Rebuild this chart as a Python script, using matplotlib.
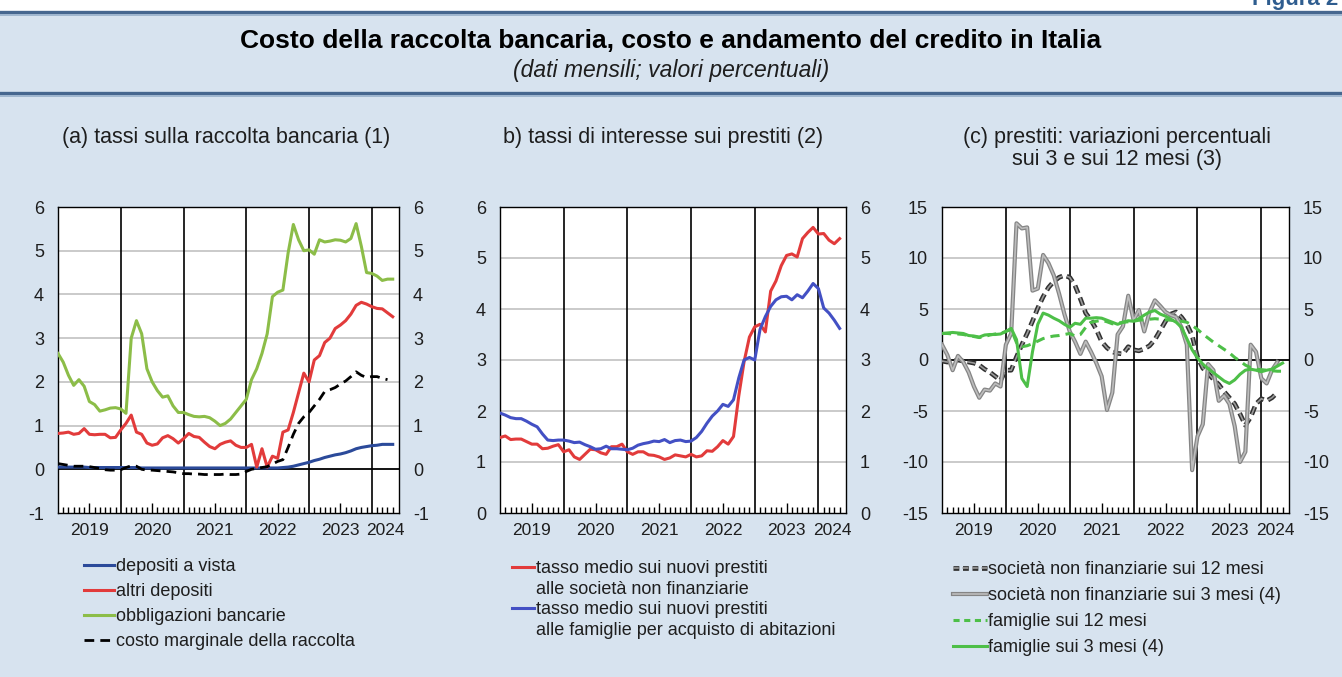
import numpy as np
import matplotlib
matplotlib.use("Agg")
import matplotlib.pyplot as plt
import matplotlib.patheffects as pe
from matplotlib.lines import Line2D
from matplotlib.patches import Rectangle

plt.rcParams['font.family'] = ['Liberation Sans', 'DejaVu Sans']
plt.rcParams['axes.unicode_minus'] = False

# -------- data: monthly, Jan 2019 - May 2024 --------
months = np.arange(65)
year_labels = ["2019", "2020", "2021", "2022", "2023", "2024"]

# (a) tassi sulla raccolta bancaria
depositi_vista = [0.05, 0.05, 0.05, 0.05, 0.05, 0.05, 0.04, 0.04, 0.04, 0.04,
                  0.04, 0.04, 0.04, 0.04, 0.04, 0.04, 0.03, 0.03, 0.03, 0.03,
                  0.03, 0.03, 0.03, 0.03, 0.03, 0.03, 0.03, 0.03, 0.03, 0.03,
                  0.03, 0.03, 0.03, 0.03, 0.03, 0.03, 0.03, 0.03, 0.03, 0.03,
                  0.03, 0.03, 0.03, 0.04, 0.05, 0.07, 0.10, 0.13, 0.16, 0.20,
                  0.23, 0.27, 0.30, 0.33, 0.35, 0.38, 0.42, 0.47, 0.50, 0.52,
                  0.54, 0.55, 0.57, 0.57, 0.57]
altri_depositi = [0.82, 0.83, 0.85, 0.80, 0.82, 0.93, 0.80, 0.79, 0.80, 0.80,
                  0.72, 0.73, 0.90, 1.05, 1.24, 0.85, 0.80, 0.60, 0.55, 0.58,
                  0.72, 0.77, 0.70, 0.60, 0.70, 0.82, 0.75, 0.73, 0.62, 0.52,
                  0.47, 0.57, 0.62, 0.65, 0.55, 0.50, 0.50, 0.57, 0.05, 0.47,
                  0.05, 0.30, 0.25, 0.85, 0.90, 1.30, 1.75, 2.20, 2.00, 2.50,
                  2.60, 2.90, 3.00, 3.22, 3.30, 3.40, 3.55, 3.75, 3.82, 3.78,
                  3.72, 3.68, 3.67, 3.58, 3.49]
obbligazioni = [2.65, 2.45, 2.15, 1.92, 2.05, 1.90, 1.55, 1.48, 1.33, 1.36,
                1.40, 1.41, 1.38, 1.28, 3.00, 3.40, 3.10, 2.30, 2.00, 1.80,
                1.65, 1.68, 1.45, 1.30, 1.30, 1.25, 1.21, 1.20, 1.21, 1.18,
                1.10, 1.00, 1.05, 1.15, 1.30, 1.45, 1.60, 2.05, 2.30, 2.65,
                3.10, 3.95, 4.05, 4.10, 4.95, 5.60, 5.25, 5.00, 5.02, 4.92,
                5.25, 5.20, 5.22, 5.25, 5.24, 5.20, 5.28, 5.62, 5.10, 4.50,
                4.48, 4.42, 4.32, 4.35, 4.35]
costo_marginale = [0.13, 0.11, 0.09, 0.07, 0.07, 0.07, 0.06, 0.04, 0.02, -0.01,
                   -0.02, -0.02, -0.01, 0.04, 0.08, 0.07, 0.00, -0.02, -0.02, -0.03,
                   -0.04, -0.05, -0.06, -0.08, -0.10, -0.10, -0.11, -0.11, -0.12, -0.12,
                   -0.12, -0.12, -0.11, -0.12, -0.12, -0.11, -0.05, 0.00, 0.02, 0.04,
                   0.06, 0.12, 0.18, 0.22, 0.50, 0.80, 1.05, 1.20, 1.30, 1.45,
                   1.60, 1.78, 1.82, 1.87, 1.95, 2.02, 2.12, 2.23, 2.15, 2.10,
                   2.12, 2.12, 2.08, 2.05, np.nan]

# (b) tassi di interesse sui prestiti
prestiti_imprese = [1.48, 1.51, 1.44, 1.45, 1.45, 1.40, 1.35, 1.35, 1.26, 1.27,
                    1.31, 1.34, 1.20, 1.24, 1.10, 1.05, 1.15, 1.25, 1.24, 1.18,
                    1.15, 1.30, 1.30, 1.35, 1.20, 1.15, 1.20, 1.20, 1.14, 1.13,
                    1.10, 1.05, 1.08, 1.14, 1.12, 1.10, 1.15, 1.10, 1.12, 1.22,
                    1.21, 1.30, 1.42, 1.35, 1.50, 2.30, 2.97, 3.45, 3.65, 3.70,
                    3.55, 4.35, 4.55, 4.85, 5.05, 5.08, 5.02, 5.38, 5.50, 5.60,
                    5.47, 5.48, 5.35, 5.28, 5.38]
prestiti_famiglie = [1.96, 1.92, 1.87, 1.85, 1.85, 1.80, 1.74, 1.69, 1.55, 1.43,
                     1.42, 1.43, 1.43, 1.41, 1.38, 1.39, 1.34, 1.30, 1.25, 1.26,
                     1.31, 1.26, 1.26, 1.25, 1.24, 1.27, 1.33, 1.36, 1.38, 1.41,
                     1.40, 1.44, 1.38, 1.42, 1.43, 1.40, 1.41, 1.48, 1.60, 1.76,
                     1.90, 2.00, 2.13, 2.09, 2.22, 2.65, 3.00, 3.05, 3.00, 3.60,
                     3.85, 4.05, 4.18, 4.24, 4.25, 4.18, 4.28, 4.22, 4.35, 4.50,
                     4.40, 4.02, 3.92, 3.78, 3.62]

# (c) prestiti: variazioni percentuali
imprese_12m = [-0.1, -0.2, -0.1, 0.0, -0.1, -0.2, -0.3, -0.5, -0.9, -1.2,
               -1.6, -2.0, -1.0, -1.0, 0.3, 1.5, 2.6, 3.8, 5.1, 6.2,
               7.1, 7.7, 8.1, 8.3, 8.1, 7.3, 6.0, 4.6, 3.9, 3.0,
               1.8, 1.2, 0.8, 0.65, 0.6, 1.3, 1.0, 0.9, 1.1, 1.4,
               2.0, 2.9, 3.8, 4.5, 4.7, 4.2, 3.5, 2.4, 0.3, -0.8,
               -1.3, -1.9, -2.4, -3.1, -3.7, -4.3, -5.3, -6.4, -5.6, -4.3,
               -3.8, -4.0, -3.7, -3.2, np.nan]
imprese_3m = [1.5, 0.5, -1.0, 0.4, -0.2, -1.2, -2.6, -3.7, -2.9, -3.0,
              -2.3, -2.6, 1.5, 2.6, 13.4, 12.9, 13.0, 6.8, 7.0, 10.3,
              9.5, 8.3, 6.5, 4.5, 2.8, 1.8, 0.6, 1.8, 0.8, -0.3,
              -1.6, -4.9, -3.2, 2.5, 3.3, 6.3, 3.9, 4.9, 2.8, 4.7,
              5.85, 5.3, 4.7, 4.4, 4.2, 3.2, 1.5, -10.8, -7.5, -6.3,
              -0.4, -1.0, -4.0, -3.5, -4.3, -6.5, -10.0, -9.0, 1.5, 0.8,
              -1.8, -2.3, -1.0, -0.2, np.nan]
famiglie_12m = [2.60, 2.60, 2.55, 2.55, 2.50, 2.40, 2.30, 2.20, 2.30, 2.45,
                2.55, 2.60, 2.80, 3.00, 1.70, 1.30, 1.40, 1.60, 1.85, 2.10,
                2.25, 2.35, 2.40, 2.50, 2.60, 2.35, 2.50, 3.20, 3.70, 3.80,
                3.90, 3.75, 3.55, 3.60, 3.70, 3.75, 3.80, 3.90, 3.95, 4.00,
                4.05, 4.00, 3.95, 3.90, 3.85, 3.80, 3.70, 3.40, 3.00, 2.55,
                2.15, 1.75, 1.40, 1.05, 0.70, 0.25, -0.10, -0.50, -0.75, -0.90,
                -0.95, -1.00, -1.05, -1.10, -1.10]
famiglie_3m = [2.60, 2.65, 2.70, 2.65, 2.60, 2.40, 2.35, 2.25, 2.45, 2.50,
               2.50, 2.55, 2.80, 3.10, 2.00, -1.80, -2.60, 0.80, 3.50, 4.60,
               4.40, 4.10, 3.85, 3.50, 3.20, 3.60, 3.50, 4.10, 4.10, 4.15,
               4.10, 3.90, 3.70, 3.50, 3.70, 3.85, 3.80, 4.05, 4.40, 4.70,
               4.85, 4.50, 4.30, 4.00, 3.70, 3.20, 2.10, 1.00, 0.20, -0.40,
               -0.85, -1.25, -1.65, -2.05, -2.30, -1.95, -1.40, -1.00, -0.90, -1.00,
               -1.15, -1.00, -0.90, -0.60, -0.30]

# -------- layout helpers --------
W, H = 1342, 677
BG = "#d7e3ef"
TXT = "#1e1e1e"
XMAX = 65.2
LEG_FS = 13


def fx(px):
    return px / W


def fy(py):
    return 1 - py / H


def style_axis(ax, ymin, ymax, step, zero_line):
    ax.set_xlim(0, XMAX)
    ax.set_ylim(ymin, ymax)
    yt = np.arange(ymin, ymax + step / 2, step)
    ax.set_yticks(yt)
    ax.set_yticklabels([str(int(v)) for v in yt])
    for v in yt[1:-1]:
        if zero_line and v == 0:
            ax.axhline(0, color="black", lw=1.3, zorder=2)
        else:
            ax.axhline(v, color="#c6c6c6", lw=1.3, zorder=1)
    for v in [12, 24, 36, 48, 60]:
        ax.axvline(v, color="black", lw=1.2, zorder=2)
    ax.tick_params(axis="y", length=0, pad=10, labelsize=13, labelcolor=TXT,
                   left=False, right=False, labelleft=True, labelright=True)
    # year labels centred on each year, 2024 on its visible part
    pos = [6, 18, 30, 42, 54, (60 + XMAX) / 2]
    ax.set_xticks(pos)
    ax.set_xticklabels(year_labels)
    ax.set_xticks([m for m in range(1, 65) if m % 6 != 0], minor=True)
    ax.tick_params(axis="x", which="major", direction="in", length=7, width=1,
                   pad=7, labelsize=12.5, labelcolor=TXT)
    ax.tick_params(axis="x", which="minor", direction="in", length=4, width=1)
    ax.xaxis.get_major_ticks()[-1].tick1line.set_visible(False)
    for s in ax.spines.values():
        s.set_color("black")
        s.set_linewidth(1.0)


fig = plt.figure(figsize=(W / 100, H / 100), dpi=100)
fig.patch.set_facecolor(BG)

# header band
fig.add_artist(Rectangle((0, fy(12)), 1, 12 / H, transform=fig.transFigure,
                         facecolor="white", edgecolor="none"))
for y, c, w in [(12, "#46678f", 2.4), (14.5, "#9fb6cf", 1.4),
                (93, "#46678f", 2.4), (95.5, "#9fb6cf", 1.4)]:
    fig.add_artist(Line2D([0, 1], [fy(y), fy(y)], transform=fig.transFigure,
                          color=c, lw=w))
fig.text(fx(1252), fy(0), "Figura 2", fontsize=16, fontweight="bold",
         color="#2f5d8f", ha="left", va="center")
fig.text(0.5, fy(41), "Costo della raccolta bancaria, costo e andamento del credito in Italia",
         fontsize=19, fontweight="bold", color="black", ha="center", va="center")
fig.text(0.5, fy(71), "(dati mensili; valori percentuali)", fontsize=16.5,
         style="italic", color=TXT, ha="center", va="center")

# -------- panel (a) --------
ax_a = fig.add_axes([fx(58), fy(513), fx(399 - 58), (513 - 207) / H])
style_axis(ax_a, -1, 6, 1, True)
ax_a.plot(months, depositi_vista, color="#2b4a9a", lw=2.2, zorder=4, label="depositi a vista")
ax_a.plot(months, altri_depositi, color="#e23b3b", lw=2.2, zorder=4, label="altri depositi")
ax_a.plot(months, obbligazioni, color="#8cbd48", lw=2.2, zorder=4, label="obbligazioni bancarie")
ax_a.plot(months, costo_marginale, color="black", lw=2.0, dashes=(3.5, 2.2), zorder=5,
          label="costo marginale della raccolta")
fig.text(fx(226), fy(137), "(a) tassi sulla raccolta bancaria (1)", fontsize=15.5,
         color=TXT, ha="center", va="center")
leg_a = ax_a.legend(loc="upper left", bbox_to_anchor=(fx(84), fy(558)),
                    bbox_transform=fig.transFigure, frameon=False, fontsize=LEG_FS,
                    handlelength=1.65, handletextpad=0.15, labelspacing=0.45,
                    borderpad=0, borderaxespad=0)
for t in leg_a.get_texts():
    t.set_color(TXT)

# -------- panel (b) --------
ax_b = fig.add_axes([fx(500), fy(513), fx(846 - 500), (513 - 207) / H])
style_axis(ax_b, 0, 6, 1, False)
ax_b.plot(months, prestiti_imprese, color="#e23b3b", lw=2.2, zorder=4)
ax_b.plot(months, prestiti_famiglie, color="#4350c4", lw=2.2, zorder=4)
fig.text(fx(663), fy(137), "b) tassi di interesse sui prestiti (2)", fontsize=15.5,
         color=TXT, ha="center", va="center")
blank = Line2D([], [], color="none")
hb = [Line2D([], [], color="#e23b3b", lw=2.2), blank,
      Line2D([], [], color="#4350c4", lw=2.2), blank]
lb = ["tasso medio sui nuovi prestiti", "alle società non finanziarie",
      "tasso medio sui nuovi prestiti", "alle famiglie per acquisto di abitazioni"]
leg_b = ax_b.legend(hb, lb, loc="upper left", bbox_to_anchor=(fx(512), fy(560)),
                    bbox_transform=fig.transFigure, frameon=False, fontsize=LEG_FS,
                    handlelength=1.2, handletextpad=0.15, labelspacing=0.2,
                    borderpad=0, borderaxespad=0)
for t in leg_b.get_texts():
    t.set_color(TXT)

# -------- panel (c) --------
ax_c = fig.add_axes([fx(942), fy(513), fx(1289 - 942), (513 - 207) / H])
style_axis(ax_c, -15, 15, 5, True)
gray_fx = [pe.Stroke(linewidth=3.0, foreground="#858585"), pe.Normal()]
dash_fx = [pe.Stroke(linewidth=3.4, foreground="#303030"), pe.Normal()]
ax_c.plot(months, imprese_12m, color="#9a9a9a", lw=1.2, dashes=(5, 2.8),
          path_effects=dash_fx, zorder=4)
ax_c.plot(months, imprese_3m, color="#bdbdbd", lw=1.2, path_effects=gray_fx, zorder=4)
ax_c.plot(months, famiglie_12m, color="#4dbf48", lw=2.2, dashes=(3.0, 2.0), zorder=5)
ax_c.plot(months, famiglie_3m, color="#4dbf48", lw=2.2, zorder=5)
fig.text(fx(1117), fy(137), "(c) prestiti: variazioni percentuali", fontsize=15.5,
         color=TXT, ha="center", va="center")
fig.text(fx(1117), fy(160), "sui 3 e sui 12 mesi (3)", fontsize=15.5,
         color=TXT, ha="center", va="center")
hc = [Line2D([], [], color="#9a9a9a", lw=1.2, dashes=(3.5, 2.2), path_effects=dash_fx),
      Line2D([], [], color="#bdbdbd", lw=1.2, path_effects=gray_fx),
      Line2D([], [], color="#4dbf48", lw=2.2, dashes=(2.0, 1.5)),
      Line2D([], [], color="#4dbf48", lw=2.2)]
lc = ["società non finanziarie sui 12 mesi", "società non finanziarie sui 3 mesi (4)",
      "famiglie sui 12 mesi", "famiglie sui 3 mesi (4)"]
leg_c = ax_c.legend(hc, lc, loc="upper left", bbox_to_anchor=(fx(953), fy(561)),
                    bbox_transform=fig.transFigure, frameon=False, fontsize=LEG_FS,
                    handlelength=1.9, handletextpad=0.05, labelspacing=0.5,
                    borderpad=0, borderaxespad=0)
for t in leg_c.get_texts():
    t.set_color(TXT)

fig.savefig("out.png", dpi=100, facecolor=fig.get_facecolor())
